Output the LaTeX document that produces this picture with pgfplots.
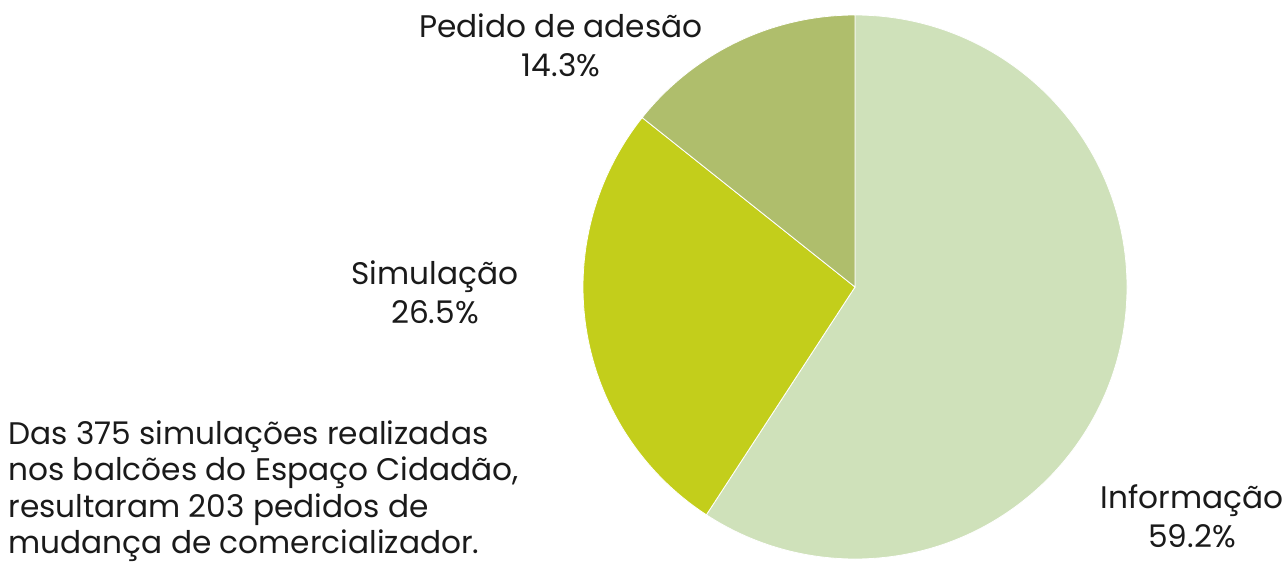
\documentclass[border=0pt]{standalone}
\usepackage{pgfplots}
\pgfplotsset{compat=1.18}
\usepackage{pgfplotstable}
\usepackage{fontspec}
\setmainfont{Poppins}
\definecolor{cInfo}{HTML}{CFE1BA}
\definecolor{cSim}{HTML}{C3CE1B}
\definecolor{cPed}{HTML}{AFBE6C}
\definecolor{txt}{HTML}{1A1A1A}
\pgfplotstableread[col sep=comma]{
name,value
Informação,59.2
Simulação,26.5
Pedido de adesão,14.3
}\piedata
\begin{document}
\begin{tikzpicture}
\begin{axis}[
  hide axis, scale only axis, clip=false,
  width=643pt, height=280.5pt,
  xmin=0, xmax=1286, ymin=0, ymax=561,
]
\path (axis cs:0,0) rectangle (axis cs:1286,561);
% cumulative angles computed from table values (clockwise from top)
\pgfplotstablegetelem{0}{value}\of{\piedata}\let\va\pgfplotsretval
\pgfplotstablegetelem{1}{value}\of{\piedata}\let\vb\pgfplotsretval
\pgfplotstablegetelem{2}{value}\of{\piedata}\let\vc\pgfplotsretval
\pgfmathsetmacro{\aA}{90}
\pgfmathsetmacro{\aB}{90-3.6*\va}
\pgfmathsetmacro{\aC}{\aB-3.6*\vb}
\pgfmathsetmacro{\aD}{\aC-3.6*\vc}
\fill[cInfo, draw=white, line width=0.4pt] (axis cs:855,274) -- ++(\aA:136pt) arc[start angle=\aA, end angle=\aB, radius=136pt] -- cycle;
\fill[cSim, draw=white, line width=0.4pt] (axis cs:855,274) -- ++(\aB:136pt) arc[start angle=\aB, end angle=\aC, radius=136pt] -- cycle;
\fill[cPed, draw=white, line width=0.4pt] (axis cs:855,274) -- ++(\aC:136pt) arc[start angle=\aC, end angle=\aD, radius=136pt] -- cycle;
\tikzset{lab/.style={text=txt, align=center, font=\fontsize{15.6pt}{19.6pt}\selectfont, inner sep=0pt}}
\node[lab, anchor=north] at (axis cs:561,548) {Pedido de adesão\\14.3\%};
\node[lab, anchor=north] at (axis cs:435,301) {Simulação\\26.5\%};
\node[lab, anchor=north] at (axis cs:1192,77) {Informação\\59.2\%};
\node[text=txt, align=left, anchor=north west, inner sep=0pt, font=\fontsize{15.6pt}{18.3pt}\selectfont] at (axis cs:8,141) {Das 375 simulações realizadas\\nos balcões do Espaço Cidadão,\\resultaram 203 pedidos de\\mudança de comercializador.};
\end{axis}
\end{tikzpicture}
\end{document}
